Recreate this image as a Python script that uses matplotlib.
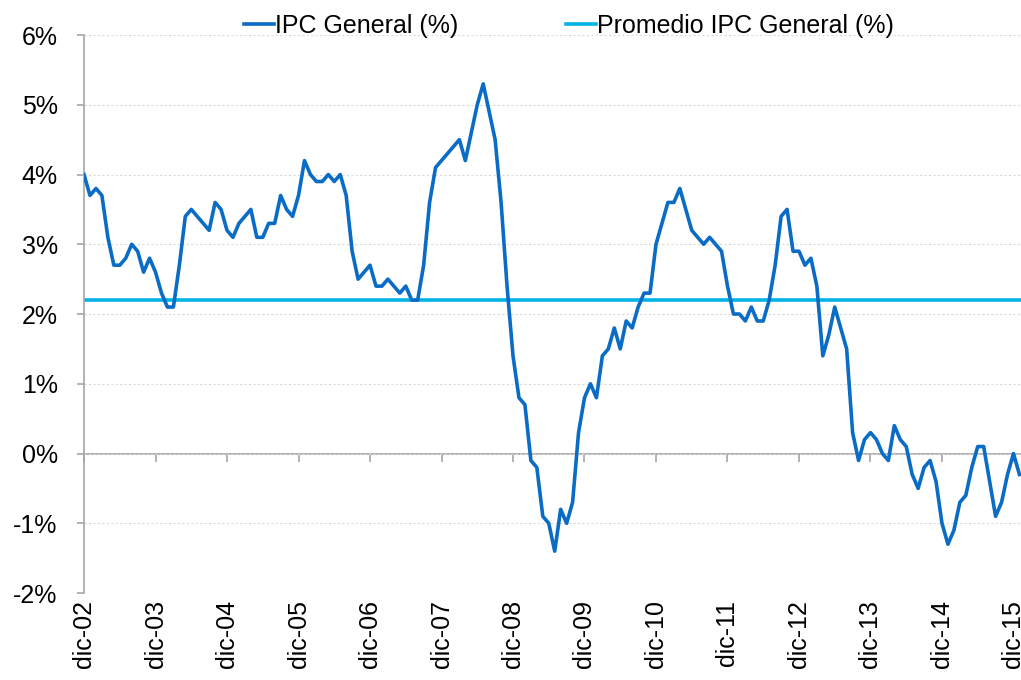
import matplotlib
matplotlib.use("Agg")
import matplotlib.pyplot as plt
from matplotlib.ticker import FuncFormatter
import numpy as np

plt.rcParams['font.family'] = ['Liberation Sans', 'DejaVu Sans']

# IPC General (%), monthly, dic-02 .. ene-16
ipc_2002 = [4.0]
ipc_2003 = [3.7, 3.8, 3.7, 3.1, 2.7, 2.7, 2.8, 3.0, 2.9, 2.6, 2.8, 2.6]
ipc_2004 = [2.3, 2.1, 2.1, 2.7, 3.4, 3.5, 3.4, 3.3, 3.2, 3.6, 3.5, 3.2]
ipc_2005 = [3.1, 3.3, 3.4, 3.5, 3.1, 3.1, 3.3, 3.3, 3.7, 3.5, 3.4, 3.7]
ipc_2006 = [4.2, 4.0, 3.9, 3.9, 4.0, 3.9, 4.0, 3.7, 2.9, 2.5, 2.6, 2.7]
ipc_2007 = [2.4, 2.4, 2.5, 2.4, 2.3, 2.4, 2.2, 2.2, 2.7, 3.6, 4.1, 4.2]
ipc_2008 = [4.3, 4.4, 4.5, 4.2, 4.6, 5.0, 5.3, 4.9, 4.5, 3.6, 2.4, 1.4]
ipc_2009 = [0.8, 0.7, -0.1, -0.2, -0.9, -1.0, -1.4, -0.8, -1.0, -0.7, 0.3, 0.8]
ipc_2010 = [1.0, 0.8, 1.4, 1.5, 1.8, 1.5, 1.9, 1.8, 2.1, 2.3, 2.3, 3.0]
ipc_2011 = [3.3, 3.6, 3.6, 3.8, 3.5, 3.2, 3.1, 3.0, 3.1, 3.0, 2.9, 2.4]
ipc_2012 = [2.0, 2.0, 1.9, 2.1, 1.9, 1.9, 2.2, 2.7, 3.4, 3.5, 2.9, 2.9]
ipc_2013 = [2.7, 2.8, 2.4, 1.4, 1.7, 2.1, 1.8, 1.5, 0.3, -0.1, 0.2, 0.3]
ipc_2014 = [0.2, 0.0, -0.1, 0.4, 0.2, 0.1, -0.3, -0.5, -0.2, -0.1, -0.4, -1.0]
ipc_2015 = [-1.3, -1.1, -0.7, -0.6, -0.2, 0.1, 0.1, -0.4, -0.9, -0.7, -0.3, 0.0]
ipc_2016 = [-0.3]

promedio = 2.2

tick_labels = ['dic-02', 'dic-03', 'dic-04', 'dic-05', 'dic-06', 'dic-07', 'dic-08',
               'dic-09', 'dic-10', 'dic-11', 'dic-12', 'dic-13', 'dic-14', 'dic-15']

ipc = (ipc_2002 + ipc_2003 + ipc_2004 + ipc_2005 + ipc_2006 + ipc_2007 + ipc_2008
       + ipc_2009 + ipc_2010 + ipc_2011 + ipc_2012 + ipc_2013 + ipc_2014 + ipc_2015 + ipc_2016)
months = np.arange(len(ipc))
tick_pos = [12 * i for i in range(len(tick_labels))]

blue = '#0A6CC4'
cyan = '#00B4E6'
axis_grey = '#A6A6A6'

fig = plt.figure(figsize=(10.21, 6.80), dpi=100)
# plot area runs a little past the right edge of the picture
ax = fig.add_axes([0.0823, 0.1279, 0.922, 0.8206])

ax.plot(months, ipc, color=blue, lw=2.6, label='IPC General (%)', zorder=3)
ax.axhline(promedio, color=cyan, lw=2.6, label='Promedio IPC General (%)', zorder=2)

ax.set_xlim(0, 158)
ax.set_ylim(-2, 6)
ax.set_yticks(range(-2, 7))
ax.yaxis.set_major_formatter(FuncFormatter(lambda v, p: f'{v:.0f}%'))
ax.grid(axis='y', color='#D9D9D9', ls=(0, (2, 2)), lw=0.8)

for s in ['top', 'right', 'bottom']:
    ax.spines[s].set_visible(False)
ax.spines['left'].set_color(axis_grey)
ax.spines['left'].set_linewidth(1.2)

ax.set_xticks(tick_pos)
ax.set_xticklabels(tick_labels, rotation=90, fontsize=18)
ax.tick_params(axis='x', length=0, pad=5)
ax.tick_params(axis='y', labelsize=18, length=5, color=axis_grey, width=1.2, pad=14)

# horizontal axis line crossing at 0%
sec = ax.secondary_xaxis(0.25)
sec.set_xticks(tick_pos)
sec.set_xticklabels([])
sec.tick_params(length=6, color=axis_grey, width=1.2, direction='out')
sec.spines['bottom'].set_color(axis_grey)
sec.spines['bottom'].set_linewidth(1.2)

fig.legend(loc='center', bbox_to_anchor=(0.557, 0.962), ncol=2, frameon=False,
           fontsize=18, handlelength=1.2, handletextpad=0.05, columnspacing=4.3)

fig.savefig('out.png', dpi=100)
